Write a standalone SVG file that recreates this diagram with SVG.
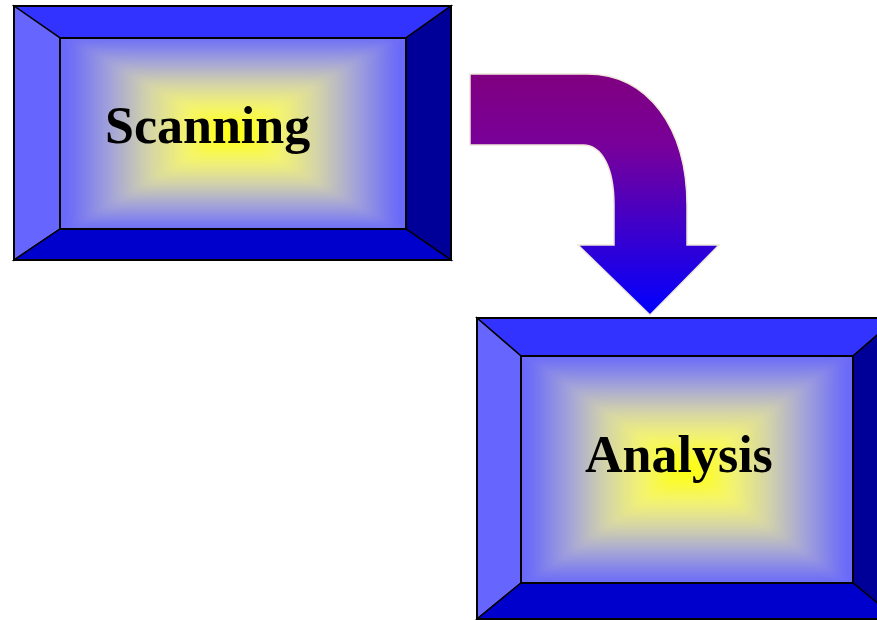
<svg xmlns="http://www.w3.org/2000/svg" width="877" height="620" viewBox="0 0 877 620">
<style>
.bev{stroke:#000;stroke-width:1.5;stroke-linejoin:miter}
.top{fill:#3333FF}.left{fill:#6666FF}.right{fill:#000099}.bot{fill:#0000CC}
.frame{fill:none;stroke:#000;stroke-width:2}
.lbl{font-family:"Liberation Serif","Times New Roman",serif;font-weight:bold;font-size:52px;fill:#000}
.soft{filter:url(#blur)}
</style>
<defs>
<filter id="blur" x="-10%" y="-10%" width="120%" height="120%"><feGaussianBlur stdDeviation="5"/></filter>
<clipPath id="c1"><rect x="60" y="38" width="346" height="191"/></clipPath>
<clipPath id="c2"><rect x="521" y="356" width="332" height="227"/></clipPath>
<linearGradient id="gT" x1="0" y1="0" x2="0" y2="1"><stop offset="0" stop-color="#6666FF"/><stop offset="0.12" stop-color="#6A6AF8"/><stop offset="0.35" stop-color="#A4A4D8"/><stop offset="0.55" stop-color="#D4D4A8"/><stop offset="0.75" stop-color="#F4F470"/><stop offset="1" stop-color="#FFFF00"/></linearGradient>
<linearGradient id="gB" href="#gT" x1="0" y1="1" x2="0" y2="0"/>
<linearGradient id="gL" href="#gT" x1="0" y1="0" x2="1" y2="0"/>
<linearGradient id="gR" href="#gT" x1="1" y1="0" x2="0" y2="0"/>
<linearGradient id="gArrow" gradientUnits="userSpaceOnUse" x1="0" y1="74" x2="0" y2="315"><stop offset="0" stop-color="#800080"/><stop offset="0.3" stop-color="#78009A"/><stop offset="1" stop-color="#0000FF"/></linearGradient>
</defs>
<rect width="877" height="620" fill="#fff"/>
<g id="scanning">
<polygon class="bev top" points="14,6 451,6 406,38 60,38"/>
<polygon class="bev left" points="14,6 60,38 60,229 14,260"/>
<polygon class="bev right" points="451,6 451,260 406,229 406,38"/>
<polygon class="bev bot" points="14,260 60,229 406,229 451,260"/>
<g clip-path="url(#c1)">
<g class="soft">
<polygon fill="url(#gT)" points="46,24 420,24 233,133.5"/>
<polygon fill="url(#gB)" points="46,243 420,243 233,133.5"/>
<polygon fill="url(#gL)" points="46,24 46,243 233,133.5"/>
<polygon fill="url(#gR)" points="420,24 420,243 233,133.5"/>
</g>
</g>
<rect class="frame" x="60" y="38" width="346" height="191"/>
<rect class="frame" x="14" y="6" width="437" height="254"/>
<text class="lbl" x="105" y="143">Scanning</text>
</g>
<g id="analysis">
<polygon class="bev top" points="477,318 897,318 853,356 521,356"/>
<polygon class="bev left" points="477,318 521,356 521,583 477,619"/>
<polygon class="bev right" points="897,318 897,619 853,583 853,356"/>
<polygon class="bev bot" points="477,619 521,583 853,583 897,619"/>
<g clip-path="url(#c2)">
<g class="soft">
<polygon fill="url(#gT)" points="507,342 867,342 687,469.5"/>
<polygon fill="url(#gB)" points="507,597 867,597 687,469.5"/>
<polygon fill="url(#gL)" points="507,342 507,597 687,469.5"/>
<polygon fill="url(#gR)" points="867,342 867,597 687,469.5"/>
</g>
</g>
<rect class="frame" x="521" y="356" width="332" height="227"/>
<rect class="frame" x="477" y="318" width="420" height="301"/>
<text class="lbl" x="585" y="472">Analysis</text>
</g>
<g id="connectors">
<path d="M470,74 L587,74 C648,74 687,128 687,205 L687,245 L719,245 L650,315 L578,245 L614,245 L614,205 C614,168 602,145 583,145 L470,145 Z" fill="url(#gArrow)" stroke="#EEE8DA" stroke-width="1.5" stroke-linejoin="miter"/>
</g>
</svg>
